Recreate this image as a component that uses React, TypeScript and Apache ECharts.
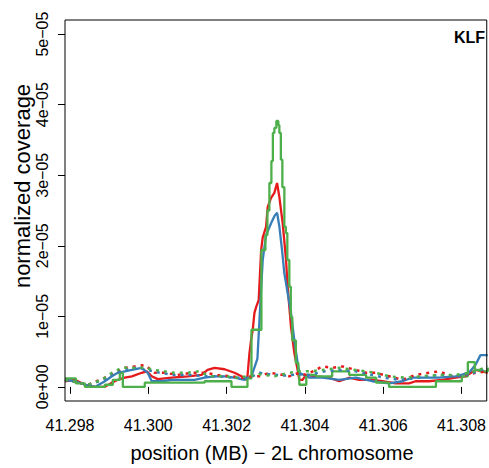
import React, { useEffect, useRef } from "react";
import * as echarts from "echarts";

// x: position (MB) on 2L; y: normalized coverage in units of 1e-05
const xTickValues = [41.298, 41.3, 41.302, 41.304, 41.306, 41.308];
const xTickLabels = ["41.298", "41.300", "41.302", "41.304", "41.306", "41.308"];
const yTickValues = [0, 1, 2, 3, 4, 5];
const yTickLabels = ["0e+00", "1e\u221205", "2e\u221205", "3e\u221205", "4e\u221205", "5e\u221205"];

const redSolidPos = [41.297873, 41.298127, 41.298382, 41.298637, 41.298891, 41.29907, 41.299222, 41.299401, 41.299579, 41.299833, 41.299961, 41.300088, 41.300241, 41.300597, 41.301005, 41.301361, 41.301514, 41.301692, 41.301947, 41.302202, 41.30238, 41.302507, 41.302533, 41.302584, 41.302627, 41.302668, 41.302711, 41.302754, 41.30282, 41.302882, 41.302923, 41.303008, 41.30305, 41.303136, 41.30322, 41.303289, 41.303348, 41.303432, 41.303518, 41.303559, 41.303645, 41.30373, 41.303814, 41.303857, 41.303941, 41.304027, 41.304282, 41.304621, 41.304876, 41.30513, 41.305385, 41.305724, 41.305979, 41.306319, 41.306658, 41.306829, 41.307167, 41.307506, 41.307847, 41.308102, 41.308356, 41.308526, 41.30867];
const redSolidCov = [0.08, 0.1, 0.03, 0.0, 0.0, 0.06, 0.1, 0.13, 0.15, 0.2, 0.22, 0.15, 0.11, 0.13, 0.15, 0.17, 0.24, 0.27, 0.25, 0.2, 0.15, 0.1, 0.15, 0.48, 0.67, 0.81, 1.05, 1.13, 1.23, 1.94, 2.12, 2.27, 2.55, 2.68, 2.75, 2.89, 2.69, 2.32, 1.8, 1.42, 0.85, 0.48, 0.24, 0.1, 0.1, 0.17, 0.15, 0.13, 0.08, 0.13, 0.1, 0.1, 0.08, 0.05, 0.05, 0.08, 0.08, 0.1, 0.13, 0.15, 0.24, 0.22, 0.2];

const blueSolidPos = [41.297873, 41.298127, 41.298382, 41.298637, 41.298891, 41.29907, 41.299222, 41.299401, 41.299579, 41.299833, 41.299986, 41.300088, 41.300343, 41.300597, 41.300852, 41.301183, 41.301438, 41.301692, 41.301947, 41.302202, 41.302456, 41.302635, 41.302787, 41.302864, 41.302923, 41.303008, 41.303076, 41.303136, 41.30322, 41.303289, 41.303348, 41.303416, 41.303475, 41.303559, 41.303645, 41.30373, 41.303814, 41.303857, 41.304112, 41.30445, 41.304876, 41.305301, 41.305724, 41.306149, 41.306488, 41.306742, 41.307084, 41.307422, 41.307847, 41.308186, 41.308356, 41.308483, 41.30867];
const blueSolidCov = [0.1, 0.08, 0.03, 0.0, 0.08, 0.15, 0.2, 0.22, 0.24, 0.27, 0.2, 0.08, 0.08, 0.1, 0.1, 0.1, 0.13, 0.15, 0.15, 0.13, 0.1, 0.15, 0.4, 1.2, 1.8, 2.15, 2.24, 2.32, 2.42, 2.47, 2.27, 1.94, 1.61, 1.33, 1.05, 0.66, 0.34, 0.2, 0.13, 0.13, 0.1, 0.13, 0.08, 0.05, 0.08, 0.13, 0.13, 0.13, 0.15, 0.2, 0.31, 0.45, 0.45];

const greenSolidPos = [41.297873, 41.298153, 41.298382, 41.298891, 41.299095, 41.299273, 41.29935, 41.29991, 41.301438, 41.302125, 41.302533, 41.302635, 41.302889, 41.302991, 41.303042, 41.303093, 41.303144, 41.303182, 41.30322, 41.303271, 41.303322, 41.303348, 41.303386, 41.303424, 41.303475, 41.303513, 41.303551, 41.303602, 41.30364, 41.303678, 41.303768, 41.303832, 41.303857, 41.304035, 41.30429, 41.304697, 41.30513, 41.305563, 41.305818, 41.306149, 41.307346, 41.308008, 41.308161, 41.308339, 41.308466, 41.30867];
const greenSolidCov = [0.12, 0.05, 0.0, 0.03, 0.1, 0.2, 0.0, 0.06, 0.08, 0.0, 0.12, 0.81, 1.94, 2.15, 2.5, 2.89, 3.2, 3.6, 3.67, 3.77, 3.71, 3.6, 3.22, 2.83, 2.27, 2.18, 1.8, 1.42, 0.99, 0.66, 0.34, 0.17, 0.03, 0.17, 0.15, 0.22, 0.17, 0.13, 0.06, 0.0, 0.08, 0.15, 0.35, 0.24, 0.22, 0.27];

const redInputPos = [41.297873, 41.298458, 41.298891, 41.299146, 41.299401, 41.299655, 41.29991, 41.300165, 41.300419, 41.30075, 41.301107, 41.301438, 41.301769, 41.302125, 41.30238, 41.302635, 41.302838, 41.303093, 41.303348, 41.303602, 41.303857, 41.304027, 41.30445, 41.304697, 41.30496, 41.305301, 41.305556, 41.30581, 41.306149, 41.306488, 41.306829, 41.307167, 41.307422, 41.307761, 41.308015, 41.308356, 41.30867];
const redInputCov = [0.1, 0.03, 0.13, 0.2, 0.27, 0.29, 0.31, 0.2, 0.2, 0.17, 0.2, 0.2, 0.17, 0.15, 0.13, 0.15, 0.15, 0.2, 0.18, 0.15, 0.2, 0.17, 0.29, 0.27, 0.29, 0.24, 0.2, 0.2, 0.15, 0.1, 0.17, 0.2, 0.22, 0.15, 0.15, 0.2, 0.22];

const blueInputPos = [41.297873, 41.298458, 41.298866, 41.29912, 41.299401, 41.299732, 41.299986, 41.300292, 41.300674, 41.301056, 41.301438, 41.30182, 41.302202, 41.302584, 41.302838, 41.303093, 41.303475, 41.303857, 41.304112, 41.304494, 41.304876, 41.305301, 41.30564, 41.306021, 41.306403, 41.306913, 41.307422, 41.307931, 41.308313, 41.30867];
const blueInputCov = [0.1, 0.03, 0.1, 0.18, 0.24, 0.27, 0.24, 0.2, 0.17, 0.17, 0.15, 0.15, 0.13, 0.13, 0.2, 0.18, 0.16, 0.18, 0.17, 0.22, 0.24, 0.22, 0.18, 0.13, 0.1, 0.13, 0.17, 0.15, 0.2, 0.27];

const greenInputPos = [41.297873, 41.298458, 41.298815, 41.29907, 41.299324, 41.299655, 41.29991, 41.300165, 41.300419, 41.300674, 41.301005, 41.30126, 41.301616, 41.301947, 41.302278, 41.302533, 41.302838, 41.30322, 41.303602, 41.303857, 41.304112, 41.30445, 41.304876, 41.305301, 41.305556, 41.30581, 41.306149, 41.306574, 41.306997, 41.307422, 41.307847, 41.308186, 41.30844, 41.30867];
const greenInputCov = [0.1, 0.03, 0.1, 0.2, 0.27, 0.27, 0.27, 0.24, 0.22, 0.2, 0.2, 0.22, 0.15, 0.15, 0.13, 0.15, 0.18, 0.15, 0.2, 0.22, 0.22, 0.24, 0.27, 0.24, 0.22, 0.2, 0.15, 0.13, 0.15, 0.17, 0.17, 0.2, 0.24, 0.29];

const RED = "#E41A1C";
const BLUE = "#377EB8";
const GREEN = "#4DAF4A";
const FONT = "'Liberation Sans', Arial, Helvetica, sans-serif";

const zip = (xs: number[], ys: number[]) => xs.map((x, i) => [x, ys[i]]);

export default function App() {
  const ref = useRef<HTMLDivElement>(null);
  useEffect(() => {
    document.body.style.margin = "0";
    const chart = echarts.init(ref.current!, undefined, { renderer: "svg" });
    const solid = (name: string, color: string, xs: number[], ys: number[], step?: any) => ({
      name,
      type: "line",
      data: zip(xs, ys),
      showSymbol: false,
      step: step || false,
      lineStyle: { color, width: 2.3 },
      itemStyle: { color },
      z: 3,
    });
    const dotted = (name: string, color: string, xs: number[], ys: number[]) => ({
      name,
      type: "line",
      data: zip(xs, ys),
      showSymbol: false,
      lineStyle: { color, width: 2.5, type: [3, 5], cap: "butt" },
      itemStyle: { color },
      z: 4,
    });
    chart.setOption({
      animation: false,
      backgroundColor: "#ffffff",
      grid: {
        left: 65,
        right: 1,
        top: 20,
        bottom: 67,
        show: true,
        borderColor: "#000",
        borderWidth: 1,
        backgroundColor: "transparent",
        z: 10,
      },
      xAxis: {
        type: "value",
        min: 41.297873,
        max: 41.308644,
        axisLine: { show: false },
        splitLine: { show: false },
        axisTick: {
          show: true,
          length: 7,
          customValues: xTickValues,
          lineStyle: { color: "#000", width: 1 },
        },
        axisLabel: {
          customValues: xTickValues,
          formatter: (v: number) => {
            const i = xTickValues.findIndex((t) => Math.abs(t - v) < 1e-7);
            return i >= 0 ? xTickLabels[i] : "";
          },
          color: "#000",
          fontFamily: FONT,
          fontSize: 16,
          margin: 16,
        },
      },
      yAxis: {
        type: "value",
        min: -0.2,
        max: 5.2,
        axisLine: { show: false },
        splitLine: { show: false },
        axisTick: {
          show: true,
          length: 7,
          customValues: yTickValues,
          lineStyle: { color: "#000", width: 1 },
        },
        axisLabel: {
          customValues: yTickValues,
          rotate: 90,
          formatter: (v: number) => {
            const i = yTickValues.findIndex((t) => Math.abs(t - v) < 1e-7);
            return i >= 0 ? yTickLabels[i] : "";
          },
          color: "#000",
          fontFamily: FONT,
          fontSize: 16,
          margin: 15,
        },
      },
      graphic: [
        {
          type: "text",
          x: 485,
          y: 37,
          style: {
            text: "KLF",
            fontFamily: FONT,
            fontWeight: "bold",
            fontSize: 16,
            fill: "#000",
            textAlign: "right",
            textVerticalAlign: "middle",
          },
        },
        {
          type: "text",
          x: 272,
          y: 453,
          style: {
            text: "position (MB) \u2212 2L chromosome",
            fontFamily: FONT,
            fontSize: 20,
            fill: "#000",
            textAlign: "center",
            textVerticalAlign: "middle",
          },
        },
        {
          type: "text",
          x: 22,
          y: 186,
          rotation: Math.PI / 2,
          style: {
            text: "normalized coverage",
            fontFamily: FONT,
            fontSize: 22,
            fill: "#000",
            textAlign: "center",
            textVerticalAlign: "middle",
          },
        },
      ],
      series: [
        solid("red", RED, redSolidPos, redSolidCov),
        solid("blue", BLUE, blueSolidPos, blueSolidCov),
        solid("green", GREEN, greenSolidPos, greenSolidCov, "end"),
        dotted("red input", RED, redInputPos, redInputCov),
        dotted("blue input", BLUE, blueInputPos, blueInputCov),
        dotted("green input", GREEN, greenInputPos, greenInputCov),
      ],
    });
    return () => chart.dispose();
  }, []);
  return (
    <div
      ref={ref}
      style={{ position: "fixed", left: 0, top: 0, width: 489, height: 468 }}
    />
  );
}
